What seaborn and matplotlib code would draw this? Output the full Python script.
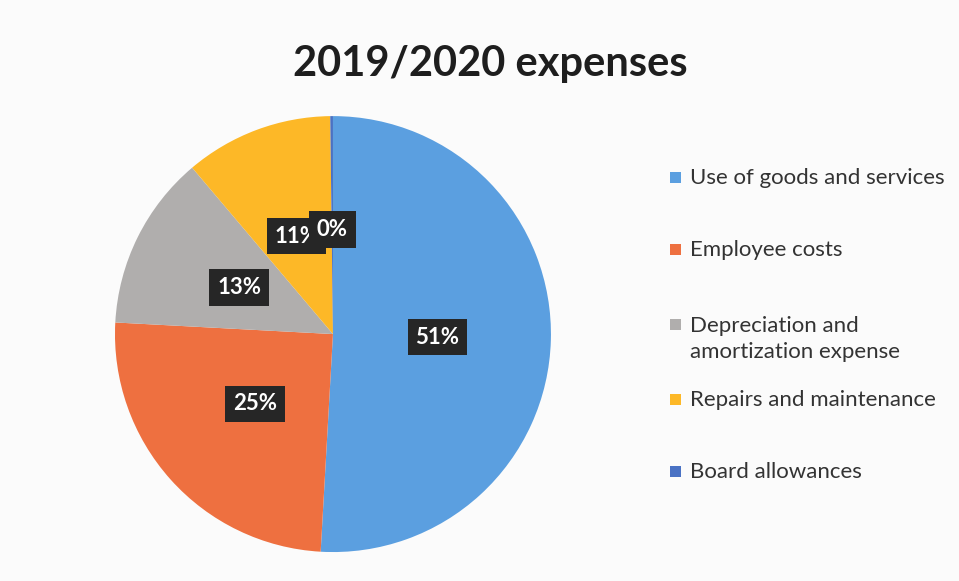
import matplotlib
matplotlib.use("Agg")
import matplotlib.pyplot as plt
import seaborn as sns
from matplotlib.patches import Rectangle

categories = ["Use of goods and services", "Employee costs",
              "Depreciation and\namortization expense", "Repairs and maintenance",
              "Board allowances"]
values = [51, 25, 13, 11, 0.2]
colors = ["#5B9FE0", "#EE7040", "#B0AEAD", "#FDB827", "#4A72C4"]
title = "2019/2020 expenses"

sns.set_theme(style="white")
plt.rcParams["font.family"] = ["Lato", "DejaVu Sans"]

fig = plt.figure(figsize=(9.59, 5.81), dpi=100)
fig.patch.set_facecolor("#FBFBFB")
ax = fig.add_axes([0.1199, 0.0498, 0.4546, 0.7504])

wedges, texts, autotexts = ax.pie(
    values, colors=colors, startangle=90, counterclock=False,
    autopct=lambda p: f"{p:.0f}%", pctdistance=0.48,
    wedgeprops=dict(linewidth=0),
    textprops=dict(color="white", fontsize=16, fontweight="bold"))
for t in autotexts:
    t.set_bbox(dict(boxstyle="square,pad=0.35", fc="#262626", ec="none"))
ax.set_xlim(-1, 1)
ax.set_ylim(-1, 1)
ax.set_aspect("equal")
ax.axis("off")

fig.text(0.511, 0.890, title, ha="center", va="center",
         fontsize=30, fontweight="bold", color="#1E1E1E")

# legend (manual, to follow the reference spacing)
leg_y = [178, 250, 339, 400, 472]
W, H = 959, 581
for lab, col, yy in zip(categories, colors, leg_y):
    fy = 1 - yy / H
    n = lab.count("\n")
    sq_y = fy + (n * 14.5) / H
    fig.patches.append(Rectangle((670 / W, sq_y - 5 / H), 11 / W, 11 / H,
                                 transform=fig.transFigure, fc=col, ec="none"))
    fig.text(690 / W, fy, lab, ha="left", va="center", fontsize=16,
             color="#333333", linespacing=1.35)

fig.savefig("out.png", dpi=100, facecolor=fig.get_facecolor())
